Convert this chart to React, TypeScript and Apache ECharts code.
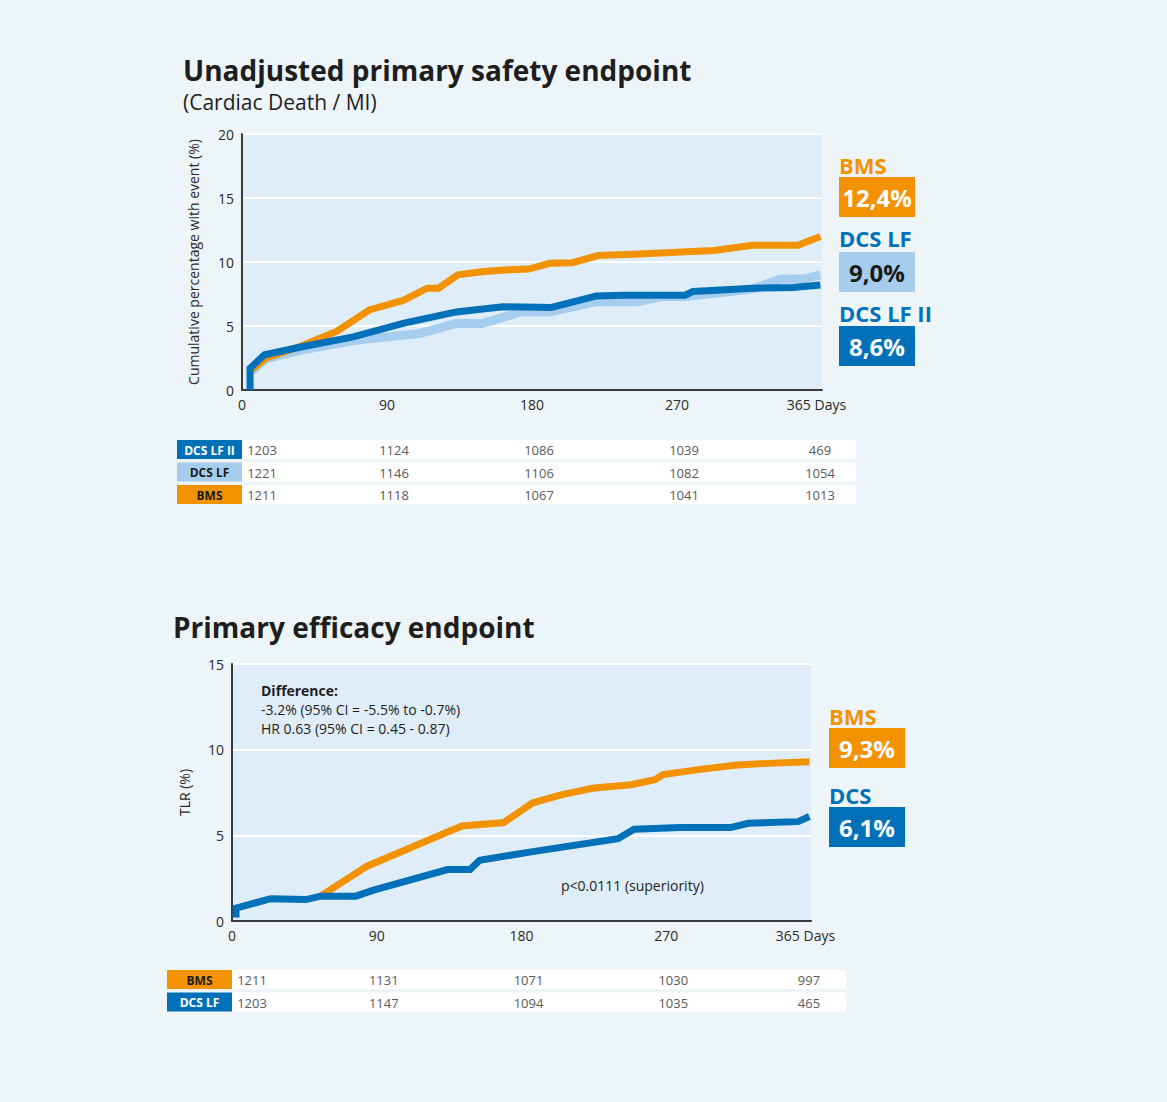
import React, { useEffect, useRef } from "react";
import * as echarts from "echarts";

// ---------- DATA ----------
const xTickDays = [0, 90, 180, 270, 360];
const lastTickLabel = "365 Days";

// Safety endpoint (Cardiac Death / MI)
const safetyBmsDays = [6, 15, 36, 59, 79, 100, 115, 122, 134, 150, 166, 178, 191, 205, 221, 243, 293, 317, 345, 359];
const safetyBmsPct = [1.6, 2.5, 3.4, 4.6, 6.25, 7.0, 7.95, 7.95, 9.0, 9.25, 9.4, 9.45, 9.9, 9.95, 10.5, 10.6, 10.9, 11.3, 11.3, 12.0];
const safetyLfDays = [6, 15, 36, 71, 110, 133, 149, 173, 191, 220, 245, 261, 275, 293, 317, 334, 350, 359];
const safetyLfPct = [1.5, 2.45, 3.1, 3.9, 4.4, 5.2, 5.2, 6.1, 6.1, 6.9, 6.9, 7.3, 7.3, 7.55, 7.9, 8.65, 8.7, 9.0];
const safetyLf2Days = [5, 5, 14, 38, 69, 100, 133, 162, 192, 220, 237, 275, 280, 317, 342, 359];
const safetyLf2Pct = [0, 1.7, 2.75, 3.4, 4.15, 5.2, 6.1, 6.5, 6.45, 7.35, 7.4, 7.4, 7.7, 7.95, 8.0, 8.2];

const safetyLegendNames = ["BMS", "DCS LF", "DCS LF II"];
const safetyLegendValues = ["12,4%", "9,0%", "8,6%"];

const safetyRiskLabels = ["DCS LF II", "DCS LF", "BMS"];
const safetyRiskLf2 = [1203, 1124, 1086, 1039, 469];
const safetyRiskLf = [1221, 1146, 1106, 1082, 1054];
const safetyRiskBms = [1211, 1118, 1067, 1041, 1013];

// Efficacy endpoint (TLR)
const effBmsDays = [55, 84, 134, 143, 169, 187, 204, 224, 248, 263, 268, 291, 314, 333, 359];
const effBmsPct = [1.45, 3.2, 5.2, 5.55, 5.75, 6.9, 7.35, 7.75, 7.95, 8.25, 8.55, 8.85, 9.1, 9.2, 9.3];
const effDcsDays = [2.5, 2.5, 24, 46, 55, 77, 88, 134, 148, 154, 187, 240, 250, 279, 310, 321, 352, 359];
const effDcsPct = [0.2, 0.75, 1.3, 1.25, 1.45, 1.45, 1.8, 3.0, 3.0, 3.55, 4.05, 4.8, 5.35, 5.45, 5.45, 5.7, 5.8, 6.1];

const effLegendNames = ["BMS", "DCS"];
const effLegendValues = ["9,3%", "6,1%"];

const effRiskLabels = ["BMS", "DCS LF"];
const effRiskBms = [1211, 1131, 1071, 1030, 997];
const effRiskDcs = [1203, 1147, 1094, 1035, 465];

const safetyTitle = "Unadjusted primary safety endpoint";
const safetySubtitle = "(Cardiac Death / MI)";
const effTitle = "Primary efficacy endpoint";
const safetyYName = "Cumulative percentage with event (%)";
const effYName = "TLR (%)";
const diffLines = ["Difference:", "-3.2% (95% CI = -5.5% to -0.7%)", "HR 0.63 (95% CI = 0.45 - 0.87)"];
const pText = "p<0.0111 (superiority)";

// ---------- STYLE ----------
const ORANGE = "#f39200";
const DARK = "#0071b9";
const LIGHT = "#a6cdee";
const PAGE_BG = "#edf5f9";
const PLOT_BG = "#dfedf8";
const AXIS = "#3a3a3a";
const TEXT = "#2a2a2a";
const FONT = "'Open Sans', 'Noto Sans', sans-serif";
const COL_OFFSET = [20, 7, 7, 7, -2];

const zip = (a: number[], b: number[]) => a.map((d, i) => [d, b[i]]);

function axisPair(gridIndex: number, yMax: number, yName: string, nameGap: number) {
  const xAxis = {
    type: "value",
    gridIndex,
    min: 0,
    max: 360,
    interval: 90,
    axisLine: { show: true, lineStyle: { color: AXIS, width: 2 } },
    axisTick: { show: false },
    splitLine: { show: false },
    axisLabel: {
      color: TEXT,
      fontFamily: FONT,
      fontSize: 14,
      margin: 7,
      formatter: (v: number) => (v === 360 ? `{last|${lastTickLabel}}` : String(v)),
      rich: {
        last: { color: TEXT, fontFamily: FONT, fontSize: 14, padding: [0, 11, 0, 0] },
      },
    },
  };
  const yAxis = {
    type: "value",
    gridIndex,
    min: 0,
    max: yMax,
    interval: 5,
    name: yName,
    nameLocation: "middle",
    nameRotate: 90,
    nameGap,
    nameTextStyle: { color: TEXT, fontFamily: FONT, fontSize: 14 },
    axisLine: { show: true, lineStyle: { color: AXIS, width: 2 } },
    axisTick: { show: false },
    splitLine: { show: true, lineStyle: { color: "#ffffff", width: 2 } },
    axisLabel: { color: TEXT, fontFamily: FONT, fontSize: 14, margin: 8 },
  };
  return { xAxis, yAxis };
}

function lineSeries(name: string, data: number[][], color: string, width: number, idx: number, z: number) {
  return {
    type: "line",
    name,
    data,
    xAxisIndex: idx,
    yAxisIndex: idx,
    showSymbol: false,
    symbol: "none",
    z,
    lineStyle: { color, width, cap: "butt", join: "miter" },
  };
}

function txt(x: number, y: number, text: string, size: number, color: string, weight: any = "normal", align = "left") {
  return {
    type: "text",
    x,
    y,
    z: 100,
    style: {
      text,
      fill: color,
      font: `${weight} ${size}px ${FONT}`,
      align,
      verticalAlign: "middle",
    },
  };
}

function legendBox(x: number, nameY: number, boxY: number, name: string, nameColor: string, value: string, boxColor: string, valueColor: string) {
  return [
    txt(x, nameY, name, 22, nameColor, "bold"),
    { type: "rect", z: 90, shape: { x, y: boxY, width: 76, height: 40 }, style: { fill: boxColor } },
    txt(x + 38, boxY + 20, value, 24, valueColor, "bold", "center"),
  ];
}

export default function App() {
  const ref = useRef<HTMLDivElement>(null);
  useEffect(() => {
    if (!ref.current) return;
    const chart = echarts.init(ref.current, undefined, { renderer: "svg" });
    const a0 = axisPair(0, 20, safetyYName, 42);
    const a1 = axisPair(1, 15, effYName, 41);
    chart.setOption({
      animation: false,
      backgroundColor: PAGE_BG,
      grid: [
        { left: 242, top: 134, width: 580, height: 256, show: true, backgroundColor: PLOT_BG, borderWidth: 0 },
        { left: 232, top: 664, width: 579, height: 257, show: true, backgroundColor: PLOT_BG, borderWidth: 0 },
      ],
      xAxis: [a0.xAxis, a1.xAxis],
      yAxis: [a0.yAxis, a1.yAxis],
      series: [
        lineSeries("DCS LF", zip(safetyLfDays, safetyLfPct), LIGHT, 9, 0, 2),
        lineSeries("BMS", zip(safetyBmsDays, safetyBmsPct), ORANGE, 7, 0, 3),
        lineSeries("DCS LF II", zip(safetyLf2Days, safetyLf2Pct), DARK, 7, 0, 4),
        lineSeries("BMS", zip(effBmsDays, effBmsPct), ORANGE, 7, 1, 3),
        lineSeries("DCS", zip(effDcsDays, effDcsPct), DARK, 7, 1, 4),
      ],
    });

    const px = (grid: number, day: number) =>
      (chart.convertToPixel({ xAxisIndex: grid, yAxisIndex: grid } as any, [day, 0]) as number[])[0];

    const riskTable = (
      grid: number,
      labels: string[],
      rows: number[][],
      fills: string[],
      labelColors: string[],
      boxX: number,
      rowRight: number,
      firstY: number,
      step: number
    ) => {
      const els: any[] = [];
      const axisX = px(grid, 0);
      rows.forEach((vals, r) => {
        const cy = firstY + r * step;
        els.push({ type: "rect", z: 80, shape: { x: axisX, y: cy - 9.5, width: rowRight - axisX, height: 19 }, style: { fill: "#ffffff" } });
        els.push({ type: "rect", z: 80, shape: { x: boxX, y: cy - 9.5, width: axisX - boxX, height: 19 }, style: { fill: fills[r] } });
        els.push(txt((boxX + axisX) / 2, cy + 0.5, labels[r], 12, labelColors[r], "bold", "center"));
        vals.forEach((v, c) => {
          const x = px(grid, xTickDays[c]) + COL_OFFSET[c];
          els.push(txt(x, cy + 0.5, String(v), 13, "#5a5a5a", "normal", "center"));
        });
      });
      return els;
    };

    const graphic: any[] = [
      txt(183, 70, safetyTitle, 28, "#1e1e1e", "bold"),
      txt(183, 102, safetySubtitle, 21, "#1e1e1e"),
      txt(173, 627, effTitle, 28, "#1e1e1e", "bold"),
      ...legendBox(839, 165, 177, safetyLegendNames[0], ORANGE, safetyLegendValues[0], ORANGE, "#ffffff"),
      ...legendBox(839, 238, 252, safetyLegendNames[1], DARK, safetyLegendValues[1], LIGHT, "#1a1a1a"),
      ...legendBox(839, 313, 326, safetyLegendNames[2], DARK, safetyLegendValues[2], DARK, "#ffffff"),
      ...legendBox(829, 716, 728, effLegendNames[0], ORANGE, effLegendValues[0], ORANGE, "#ffffff"),
      ...legendBox(829, 795, 807, effLegendNames[1], DARK, effLegendValues[1], DARK, "#ffffff"),
      txt(261, 690, diffLines[0], 14, "#1e1e1e", "bold"),
      txt(261, 709, diffLines[1], 14, "#1e1e1e"),
      txt(261, 728, diffLines[2], 14, "#1e1e1e"),
      txt(561, 885, pText, 14, "#1e1e1e"),
      ...riskTable(0, safetyRiskLabels, [safetyRiskLf2, safetyRiskLf, safetyRiskBms], [DARK, LIGHT, ORANGE], ["#ffffff", "#1a1a1a", "#1a1a1a"], 177, 856, 449.5, 22.5),
      ...riskTable(1, effRiskLabels, [effRiskBms, effRiskDcs], [ORANGE, DARK], ["#1a1a1a", "#ffffff"], 167, 846, 979.5, 22.5),
    ];
    chart.setOption({ graphic });

    return () => chart.dispose();
  }, []);
  return (
    <div
      ref={ref}
      style={{ position: "absolute", left: 0, top: 0, width: 1167, height: 1102, background: PAGE_BG }}
    />
  );
}
